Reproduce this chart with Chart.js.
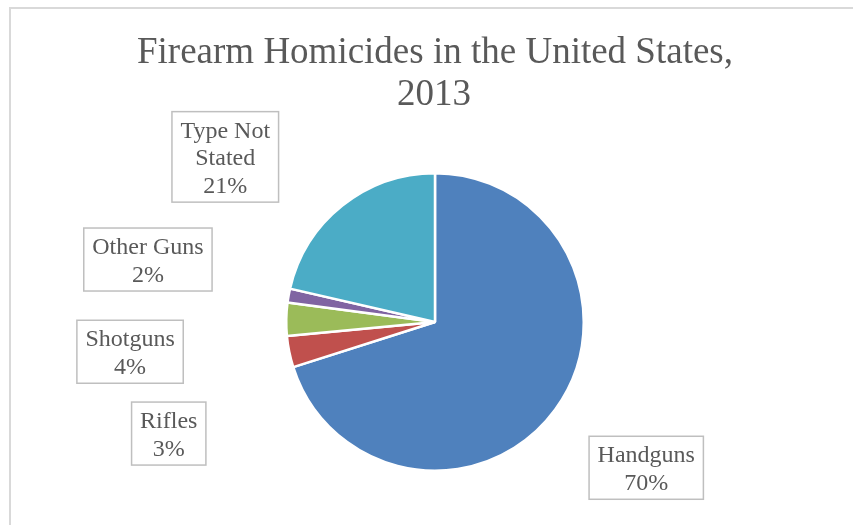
<!DOCTYPE html>
<html>
<head>
<meta charset="utf-8">
<script src="https://cdn.jsdelivr.net/npm/chart.js@4.4.1/dist/chart.umd.min.js"></script>
<style>
  html, body { margin: 0; padding: 0; background: #fff; }
  canvas { display: block; }
</style>
</head>
<body>
<canvas id="pieChart" width="853" height="525"></canvas>
<script>
// data (share of firearm homicides, %)
var categories = ["Handguns", "Rifles", "Shotguns", "Other Guns", "Type Not Stated"];
var values = [70.1, 3.4, 3.6, 1.5, 21.4];
var colors = ['#4F81BD', '#C0504D', '#9BBB59', '#8064A2', '#4BACC6'];
var titleLines = ["Firearm Homicides in the United States,", "2013"];

// where each label box sits, relative to the pie centre, in radii
var labelOffsets = [[1.42, 0.98], [-1.79, 0.75], [-2.05, 0.20], [-1.93, -0.42], [-1.41, -1.11]];

var textColor = '#595959';
var serif = '"Liberation Serif", "Times New Roman", serif';

function wrap(ctx, text, maxW) {
    var words = text.split(' '), lines = [], cur = '';
    words.forEach(function (w) {
        var t = cur ? cur + ' ' + w : w;
        if (cur && ctx.measureText(t).width > maxW) { lines.push(cur); cur = w; }
        else cur = t;
    });
    lines.push(cur);
    return lines;
}

var frame = {
    id: 'frame',
    beforeDraw: function (chart) {
        var ctx = chart.ctx;
        ctx.save();
        ctx.fillStyle = '#fff';
        ctx.fillRect(0, 0, chart.width, chart.height);
        ctx.strokeStyle = '#d9d9d9';
        ctx.lineWidth = 2;
        ctx.strokeRect(10, 8, chart.width + 10, chart.height + 10);
        ctx.fillStyle = textColor;
        ctx.font = '37px ' + serif;
        ctx.textAlign = 'center';
        ctx.textBaseline = 'alphabetic';
        ctx.fillText(titleLines[0], 435, 63);
        ctx.fillText(titleLines[1], 434, 105);
        ctx.restore();
    }
};

var boxLabels = {
    id: 'boxLabels',
    afterDatasetsDraw: function (chart) {
        var ctx = chart.ctx;
        var meta = chart.getDatasetMeta(0);
        var data = chart.data.datasets[0].data;
        var total = data.reduce(function (a, b) { return a + b; }, 0);
        ctx.save();
        ctx.font = '24px ' + serif;
        ctx.textAlign = 'center';
        ctx.textBaseline = 'alphabetic';
        meta.data.forEach(function (arc, i) {
            var r = arc.outerRadius;
            var cx = arc.x + labelOffsets[i][0] * r;
            var cy = arc.y + labelOffsets[i][1] * r;
            var lines = wrap(ctx, chart.data.labels[i], 130);
            lines.push(Math.round(data[i] / total * 100) + '%');
            var w = 0;
            lines.forEach(function (l) { w = Math.max(w, ctx.measureText(l).width); });
            w += 17;
            var h = lines.length * 27.5 + 8;
            var x0 = cx - w / 2, y0 = cy - h / 2;
            ctx.fillStyle = '#fff';
            ctx.fillRect(x0, y0, w, h);
            ctx.strokeStyle = '#bfbfbf';
            ctx.lineWidth = 1.5;
            ctx.strokeRect(x0, y0, w, h);
            ctx.fillStyle = textColor;
            lines.forEach(function (l, j) {
                ctx.fillText(l, cx, y0 + 26 + j * 27.5);
            });
        });
        ctx.restore();
    }
};

var ctxP = document.getElementById("pieChart").getContext('2d');
var myPieChart = new Chart(ctxP, {
    type: 'pie',
    data: {
        labels: categories,
        datasets: [{
            data: values,
            backgroundColor: colors,
            borderColor: '#ffffff',
            borderWidth: 2.5
        }]
    },
    options: {
        responsive: false,
        animation: false,
        layout: {
            padding: { left: 285, right: 268, top: 172, bottom: 53 }
        },
        plugins: {
            legend: { display: false },
            title: { display: false },
            tooltip: { enabled: false }
        }
    },
    plugins: [frame, boxLabels]
});
</script>
</body>
</html>
